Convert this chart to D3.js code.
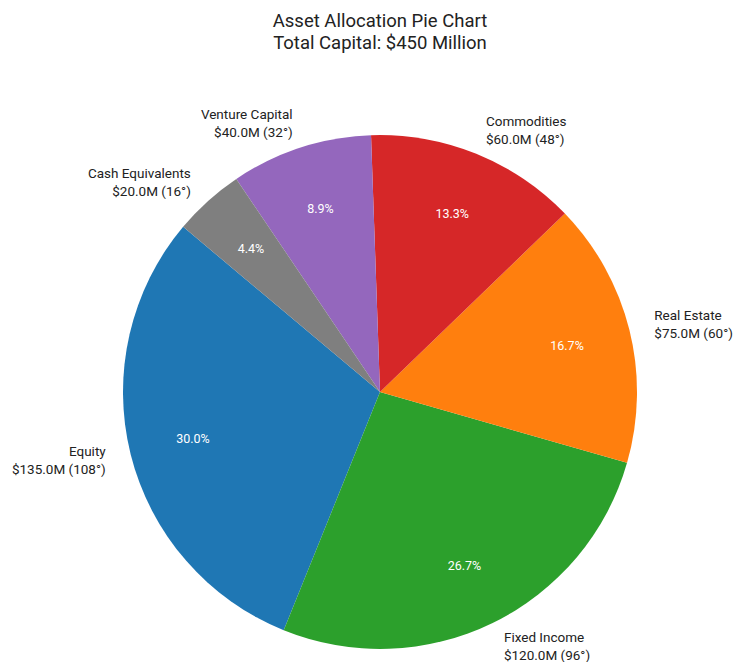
<!DOCTYPE html>
<html>
<head>
<meta charset="utf-8">
<script src="https://cdn.jsdelivr.net/npm/d3@7"></script>
<style>
  body { margin: 0; background: #fff; }
  svg text { font-family: Roboto, "Open Sans", sans-serif; }
</style>
</head>
<body>
<svg id="pie-chart" width="737" height="662"></svg>
<script>
const categories = ["Equity", "Fixed Income", "Real Estate", "Commodities", "Venture Capital", "Cash Equivalents"];
const values = [135, 120, 75, 60, 40, 20]; // $M
const colors = ["#1f77b4", "#2ca02c", "#ff7f0e", "#d62728", "#9467bd", "#7f7f7f"];
const titleLines = ["Asset Allocation Pie Chart", "Total Capital: $450 Million"];

let svg = d3.select("#pie-chart");
let cx = 380, cy = 392, radius = 257;
let total = d3.sum(values);

// title
svg.append("text")
  .attr("x", cx).attr("y", 27)
  .attr("text-anchor", "middle")
  .style("font-size", "18.5px").style("fill", "#222")
  .selectAll("tspan").data(titleLines).enter().append("tspan")
  .attr("x", cx).attr("dy", (d, i) => i ? 22 : 0)
  .text(d => d);

// matplotlib style: startangle 140 deg, counterclockwise
// convert to d3 angles (clockwise from 12 o'clock)
let start = (90 - 140) * Math.PI / 180;
let pie = d3.pie().sort(null)
  .startAngle(start)
  .endAngle(start - 2 * Math.PI);

let arcs = pie(values);
let arc = d3.arc().innerRadius(0).outerRadius(radius);

let g = svg.append("g").attr("transform", "translate(" + cx + "," + cy + ")");

g.selectAll("path")
  .data(arcs)
  .enter()
  .append("path")
  .attr("d", arc)
  .attr("fill", (d, i) => colors[i]);

function pos(d, r) {
  let a = (d.startAngle + d.endAngle) / 2;
  return [r * Math.sin(a), -r * Math.cos(a)];
}

// percent labels
g.selectAll("text.pct")
  .data(arcs)
  .enter()
  .append("text")
  .attr("class", "pct")
  .attr("transform", d => "translate(" + pos(d, radius * 0.75) + ")")
  .attr("text-anchor", "middle")
  .attr("dy", "0.35em")
  .style("font-size", "12.5px")
  .style("fill", "#fff")
  .text(d => (d.value / total * 100).toFixed(1) + "%");

// outer labels
let lab = g.selectAll("text.lab")
  .data(arcs)
  .enter()
  .append("text")
  .attr("class", "lab")
  .style("font-size", "13.5px")
  .style("fill", "#222")
  .attr("text-anchor", d => pos(d, 1)[0] < 0 ? "end" : "start");

lab.each(function(d, i) {
  let p = pos(d, radius * 1.1);
  let deg = Math.round(d.value / total * 360);
  let lines = [categories[i], "$" + d.value.toFixed(1) + "M (" + deg + "\u00b0)"];
  d3.select(this).selectAll("tspan")
    .data(lines).enter().append("tspan")
    .attr("x", p[0])
    .attr("y", (t, j) => p[1] + (j - 0.5) * 18 + 5)
    .text(t => t);
});
</script>
</body>
</html>
